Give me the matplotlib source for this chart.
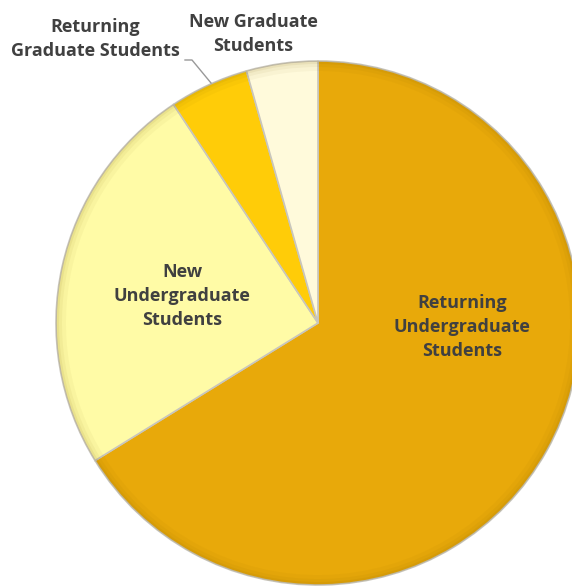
import matplotlib.pyplot as plt
from matplotlib.patches import Wedge

# enrolment share by student group, clockwise from 12 o'clock
categories = ["Returning\nUndergraduate\nStudents", "New\nUndergraduate\nStudents",
              "Returning\nGraduate Students", "New Graduate\nStudents"]
shares = [66.2, 24.5, 4.9, 4.4]
colors = ["#E8A90A", "#FFFBA6", "#FFCC08", "#FFFADB"]

W, H = 572, 586
fig = plt.figure(figsize=(W / 100, H / 100), dpi=100)
ax = fig.add_axes([0, 0, 1, 1])

cx, cy, r = 318, 263, 262
wedges, _ = ax.pie(shares, colors=colors, startangle=90, counterclock=False,
                   center=(cx, cy), radius=r, frame=True,
                   wedgeprops=dict(edgecolor="#C9C6BC", linewidth=1.2))
ax.set_xlim(0, W)
ax.set_ylim(0, H)
ax.set_aspect("equal")
ax.axis("off")

# soft darker rim for a bevelled look
for w in wedges:
    for k, a in [(10, 0.04), (6, 0.05), (3, 0.07)]:
        ax.add_patch(Wedge((cx, cy), r, w.theta1, w.theta2, width=k,
                           facecolor="#7a5a00", edgecolor="none", alpha=a))

txt = dict(fontsize=13, fontweight="bold", color="#404040", ha="center",
           va="center", family=["Open Sans", "DejaVu Sans"], linespacing=1.45)
ax.text(462, H - 327, categories[0], **txt)
ax.text(182, H - 296, categories[1], **txt)
ax.text(95, H - 39, categories[2], **txt)
ax.text(253, H - 34, categories[3], **txt)

# leader line for the small slice
ax.plot([185, 192, 211], [H - 60, H - 60, H - 83], color="#999999", lw=1)

fig.savefig("out.png", dpi=100)
